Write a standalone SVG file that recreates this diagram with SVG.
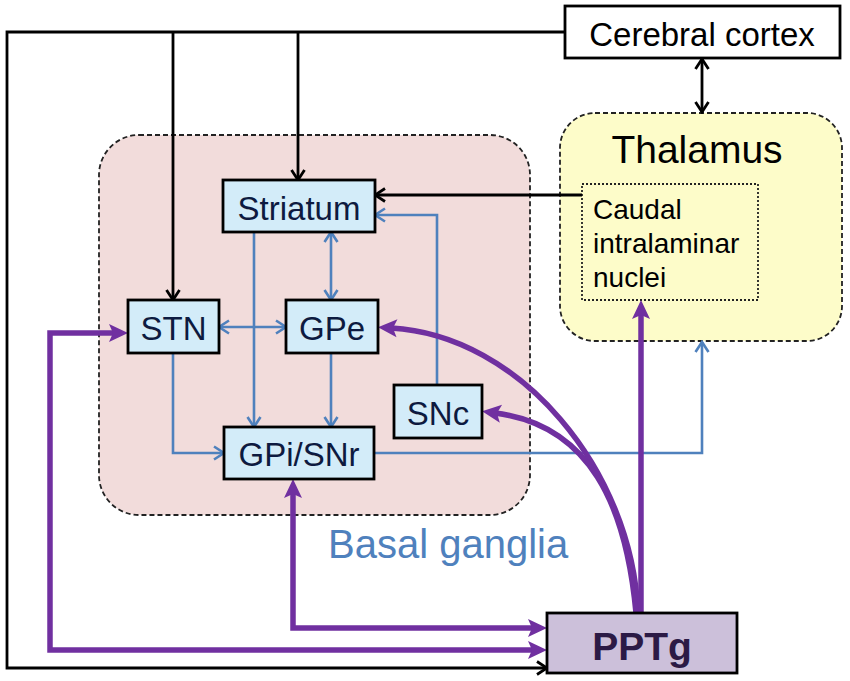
<svg xmlns="http://www.w3.org/2000/svg" width="850" height="681" viewBox="0 0 850 681">
<defs>
<style>
.node rect{fill:#d3ecf9;stroke:#000;stroke-width:2.8}
.node text{font-family:"Liberation Sans",Arial,sans-serif;font-size:33px;fill:#0d1a40;text-anchor:middle}
.blk{fill:none;stroke:#000;stroke-width:2.8}
.blu{fill:none;stroke:#4f81bd;stroke-width:2.6}
.pur{fill:none;stroke:#7030a0;stroke-width:5.5}
.lbl{font-family:"Liberation Sans",Arial,sans-serif}
</style>
<marker id="ab" viewBox="-14 -9 16 18" markerWidth="16" markerHeight="18" refX="0" refY="0" orient="auto-start-reverse" markerUnits="userSpaceOnUse"><path d="M-10,-6.5 L0,0 L-10,6.5" fill="none" stroke="#000" stroke-width="2.8"/></marker>
<marker id="au" viewBox="-14 -9 16 18" markerWidth="16" markerHeight="18" refX="0" refY="0" orient="auto-start-reverse" markerUnits="userSpaceOnUse"><path d="M-10,-6.5 L0,0 L-10,6.5" fill="none" stroke="#4f81bd" stroke-width="2.6"/></marker>
<marker id="ap" viewBox="-8 -10 22 20" markerWidth="22" markerHeight="20" refX="0" refY="0" orient="auto-start-reverse" markerUnits="userSpaceOnUse"><path d="M-6,-9 L13,0 L-6,9 L-2,0 z" fill="#7030a0"/></marker>
</defs>
<rect width="850" height="681" fill="#fff"/>
<g id="basal-ganglia">
<rect x="99" y="135" width="431" height="380" rx="40" fill="#f2dcdb" stroke="#222" stroke-width="1.8" stroke-dasharray="5,3"/>
<text class="lbl" x="328" y="558" font-size="40" fill="#4f81bd">Basal ganglia</text>
</g>
<g id="thalamus">
<rect x="560" y="113" width="282" height="228" rx="35" fill="#fdfcc9" stroke="#222" stroke-width="1.8" stroke-dasharray="5,3"/>
<text class="lbl" x="697" y="163" font-size="39" text-anchor="middle" fill="#000">Thalamus</text>
</g>
<g id="caudal">
<rect x="582" y="184" width="176" height="116" fill="none" stroke="#222" stroke-width="1.8" stroke-dasharray="2,2"/>
<text class="lbl" font-size="28" fill="#000"><tspan x="593" y="219">Caudal</tspan><tspan x="593" y="253">intralaminar</tspan><tspan x="593" y="287">nuclei</tspan></text>
</g>
<g id="connectors">
<path class="blk" d="M565,32 H7 V668 H547" marker-end="url(#ab)"/>
<path class="blk" d="M173,32 V300" marker-end="url(#ab)"/>
<path class="blk" d="M298,32 V180" marker-end="url(#ab)"/>
<path class="blk" d="M582,195 H375" marker-end="url(#ab)"/>
<path class="blk" d="M702,59 V112" marker-start="url(#ab)" marker-end="url(#ab)"/>
<path class="blu" d="M219,327 H286" marker-start="url(#au)" marker-end="url(#au)"/>
<path class="blu" d="M331,232 V300" marker-start="url(#au)" marker-end="url(#au)"/>
<path class="blu" d="M254,232 V427" marker-end="url(#au)"/>
<path class="blu" d="M331,353 V427" marker-end="url(#au)"/>
<path class="blu" d="M173,353 V453 H224" marker-end="url(#au)"/>
<path class="blu" d="M437,385 V215 H375" marker-end="url(#au)"/>
<path class="blu" d="M374,453 H702 V342" marker-end="url(#au)"/>
<path class="pur" d="M115,333 H50 V650 H534" marker-start="url(#ap)" marker-end="url(#ap)"/>
<path class="pur" d="M293,492 V628 H534" marker-start="url(#ap)" marker-end="url(#ap)"/>
<path class="pur" d="M641,613 V313" marker-end="url(#ap)"/>
<path class="pur" d="M638,613 C632,470 520,335 391,328" marker-end="url(#ap)"/>
<path class="pur" d="M636,613 C626,505 590,425 495,413" marker-end="url(#ap)"/>
</g>
<g id="cortex">
<rect x="565" y="6" width="275" height="52" fill="#fff" stroke="#000" stroke-width="2.8"/>
<text class="lbl" x="702" y="46" font-size="33" text-anchor="middle" fill="#000">Cerebral cortex</text>
</g>
<g id="striatum" class="node"><rect x="223" y="180" width="152" height="52"/><text x="299" y="220">Striatum</text></g>
<g id="stn" class="node"><rect x="128" y="300" width="91" height="53"/><text x="173.5" y="340">STN</text></g>
<g id="gpe" class="node"><rect x="286" y="300" width="92" height="53"/><text x="332" y="340">GPe</text></g>
<g id="snc" class="node"><rect x="394" y="385" width="88" height="53"/><text x="438" y="425">SNc</text></g>
<g id="gpi-snr" class="node"><rect x="224" y="427" width="150" height="52"/><text x="299" y="466">GPi/SNr</text></g>
<g id="pptg">
<rect x="547" y="613" width="190" height="60" fill="#ccc0da" stroke="#000" stroke-width="2.8"/>
<text class="lbl" x="642" y="660" font-size="39" font-weight="bold" text-anchor="middle" fill="#2b1a45">PPTg</text>
</g>
</svg>
